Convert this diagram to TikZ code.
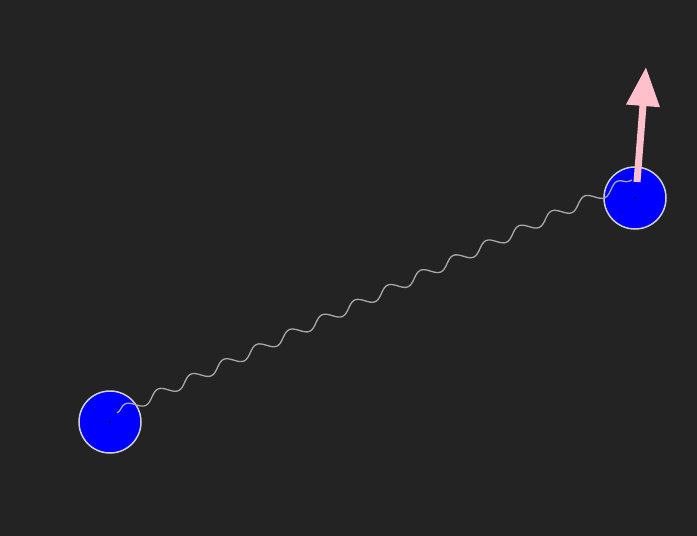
\documentclass[tikz,border=0pt]{standalone}
\usetikzlibrary{arrows.meta,decorations.pathmorphing}
\definecolor{bg}{HTML}{232323}
\definecolor{ballblue}{HTML}{0000FF}
\definecolor{rim}{HTML}{D0D0D0}
\definecolor{spring}{HTML}{A8A8A8}
\definecolor{pinkarrow}{HTML}{FFC0CB}
\tikzset{
  ball/.style={circle, fill=ballblue, draw=rim, line width=1.5pt, minimum size=62pt, inner sep=0pt},
  centerdot/.style={circle, fill=black, minimum size=2pt, inner sep=0pt},
  springline/.style={draw=spring, line width=1.3pt, decorate, decoration={snake, amplitude=5pt, segment length=36pt}},
  force/.style={draw=pinkarrow, line width=7pt, -{Triangle[width=32pt,length=39pt]}}
}
\begin{document}
\begin{tikzpicture}[x=1pt,y=-1pt]
\fill[bg] (0,0) rectangle (697,536);
\useasboundingbox (0,0) rectangle (697,536);
\node[ball] (b1) at (110,422) {};
\node[ball] (b2) at (635,198) {};
\coordinate (s1) at (117,413);
\coordinate (s2) at (632,180);
\path[springline] (s1) -- (s2);
\node[centerdot] (d1) at (b1.center) {};
\node[centerdot] (d2) at (b2.center) {};
\coordinate (f1) at (637,182);
\coordinate (f2) at (646,67);
\path[force] (f1) -- (f2);
\end{tikzpicture}
\end{document}
